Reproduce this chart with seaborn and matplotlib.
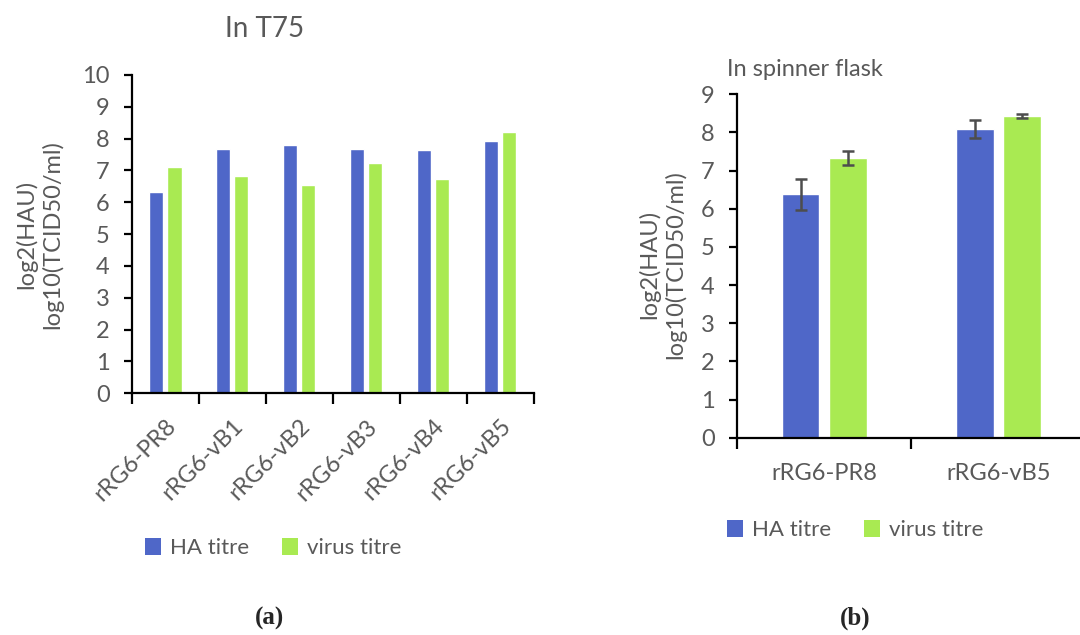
import matplotlib
matplotlib.use("Agg")
import matplotlib.pyplot as plt
import seaborn as sns
import pandas as pd
from matplotlib.patches import Patch

# ---- data ----
t75_strains = ["rRG6-PR8", "rRG6-vB1", "rRG6-vB2", "rRG6-vB3", "rRG6-vB4", "rRG6-vB5"]
t75_ha = [6.31, 7.69, 7.80, 7.69, 7.65, 7.94]
t75_virus = [7.12, 6.84, 6.55, 7.25, 6.72, 8.22]

sp_strains = ["rRG6-PR8", "rRG6-vB5"]
sp_ha = [6.38, 8.09]
sp_ha_err = [0.40, 0.23]
sp_virus = [7.33, 8.43]
sp_virus_err = [0.19, 0.05]

series_names = ["HA titre", "virus titre"]
ylabel = "log2(HAU)\nlog10(TCID50/ml)"

BLUE = "#4F67C8"
GREEN = "#A9EA52"
GREY = "#595959"

sns.set_theme(style="white")
plt.rcParams["font.family"] = ["Lato", "DejaVu Sans"]

fig = plt.figure(figsize=(10.8, 6.35), dpi=100)

def long_df(strains, ha, virus):
    return pd.DataFrame({
        "strain": strains * 2,
        "series": [series_names[0]] * len(strains) + [series_names[1]] * len(strains),
        "value": list(ha) + list(virus),
    })

def style_axis(ax, n, ymax):
    for s in ["top", "right"]:
        ax.spines[s].set_visible(False)
    for s in ["left", "bottom"]:
        ax.spines[s].set_color("black")
        ax.spines[s].set_linewidth(1.6)
    ax.set_xlim(-0.5, n - 0.5)
    ax.set_ylim(0, ymax)
    ax.set_yticks(range(0, ymax + 1))
    ax.tick_params(axis="y", which="major", direction="out", length=6, width=1.6,
                   color="black", labelsize=17, labelcolor=GREY, pad=10, left=True)
    ax.set_xticks([i - 0.5 for i in range(n + 1)], minor=True)
    ax.tick_params(axis="x", which="minor", direction="out", length=8, width=1.6,
                   color="black", bottom=True)
    ax.tick_params(axis="x", which="major", length=0, labelsize=17, labelcolor=GREY)
    ax.set_xlabel("")
    ax.set_ylabel("")
    ax.grid(False)

# ---- panel a ----
ax1 = fig.add_axes([0.122, 0.3806, 0.372, 0.5013])
df1 = long_df(t75_strains, t75_ha, t75_virus)
sns.barplot(data=df1, x="strain", y="value", hue="series", palette=[BLUE, GREEN],
            width=0.54, gap=0.2, errorbar=None, ax=ax1, legend=False, saturation=1)
style_axis(ax1, len(t75_strains), 10)
ax1.set_xticks(range(len(t75_strains)))
ax1.set_xticklabels(t75_strains, rotation=45, ha="right", va="top",
                    rotation_mode="anchor")
ax1.tick_params(axis="x", which="major", pad=16)
fig.text(0.036, 0.631, ylabel, rotation=90, ha="center", va="center",
         fontsize=17, color=GREY, linespacing=1.2)
fig.text(0.245, 0.955, "In T75", ha="center", va="center", fontsize=20, color=GREY)

# ---- panel b ----
ax2 = fig.add_axes([0.6824, 0.3107, 0.323, 0.5408])
df2 = long_df(sp_strains, sp_ha, sp_virus)
sns.barplot(data=df2, x="strain", y="value", hue="series", palette=[BLUE, GREEN],
            width=0.54, gap=0.2, errorbar=None, ax=ax2, legend=False, saturation=1)
style_axis(ax2, len(sp_strains), 9)
ax2.set_xticks(range(len(sp_strains)))
ax2.set_xticklabels(sp_strains)
ax2.tick_params(axis="x", which="major", pad=18)
patches = [p for p in ax2.patches if p.get_height() > 0]
patches = sorted(patches, key=lambda p: p.get_x())
vals = []
errs = []
for i in range(len(sp_strains)):
    vals += [sp_ha[i], sp_virus[i]]
    errs += [sp_ha_err[i], sp_virus_err[i]]
xs = [p.get_x() + p.get_width() / 2 for p in patches]
ax2.errorbar(xs, vals, yerr=errs, fmt="none", ecolor="#4D4D4D", elinewidth=1.8,
             capsize=4, capthick=1.8, zorder=5)
fig.text(0.613, 0.584, ylabel, rotation=90, ha="center", va="center",
         fontsize=17, color=GREY, linespacing=1.2)
fig.text(0.745, 0.89, "In spinner flask", ha="center", va="center", fontsize=17,
         color=GREY)

# ---- legends ----
handles = [Patch(facecolor=BLUE, edgecolor="none"), Patch(facecolor=GREEN, edgecolor="none")]
for ax, xc, yc in [(ax1, 0.253, 1 - 548 / 635), (ax2, 0.792, 1 - 530 / 635)]:
    leg = ax.legend(handles, series_names, loc="center", bbox_to_anchor=(xc, yc),
                    bbox_transform=fig.transFigure, ncol=2, frameon=False,
                    handlelength=0.7, handleheight=0.85, handletextpad=0.4,
                    columnspacing=1.5, fontsize=16)
    for t in leg.get_texts():
        t.set_color(GREY)

# ---- captions ----
fig.text(0.25, 1 - 618 / 635, "(a)", ha="center", va="center", fontsize=18,
         fontweight="bold", family=["Liberation Serif", "DejaVu Serif"])
fig.text(0.792, 1 - 618 / 635, "(b)", ha="center", va="center", fontsize=18,
         fontweight="bold", family=["Liberation Serif", "DejaVu Serif"])

fig.savefig("out.png", dpi=100)
